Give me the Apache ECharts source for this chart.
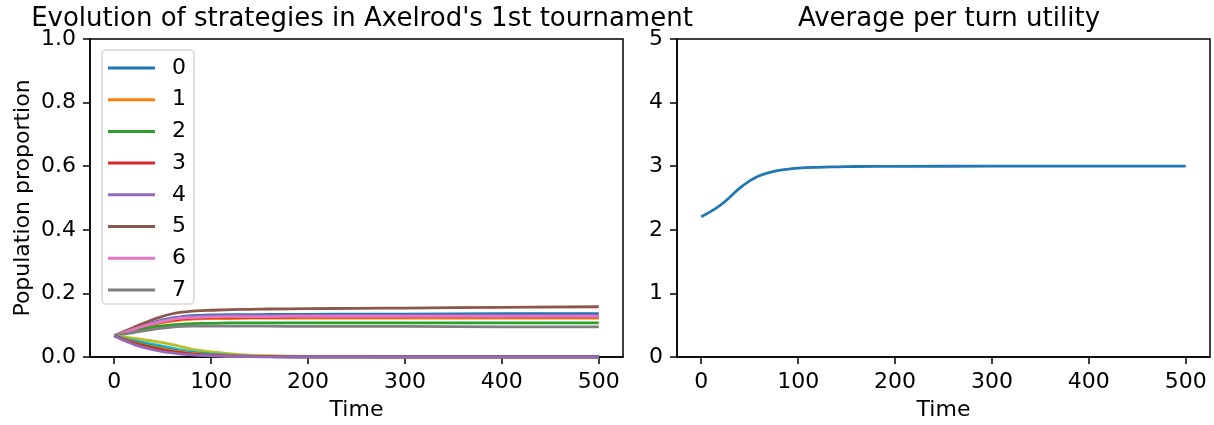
<!DOCTYPE html>
<html>
<head>
<meta charset="utf-8">
<script src="https://cdn.jsdelivr.net/npm/echarts@6/dist/echarts.min.js"></script>
<style>html,body{margin:0;padding:0;background:#fff}#c{width:1214px;height:425px}</style>
</head>
<body>
<div id="c"></div>
<script>
// ---- data ----
const time = [0,10,20,30,40,50,60,70,80,90,100,120,140,160,200,250,300,400,500];
const strategyLabels = ['0','1','2','3','4','5','6','7','8','9','10','11','12','13','14'];
const s0  = [0.0667,0.078,0.089,0.099,0.109,0.117,0.123,0.127,0.130,0.131,0.132,0.133,0.133,0.134,0.134,0.135,0.135,0.136,0.136];
const s1  = [0.0667,0.076,0.085,0.094,0.102,0.108,0.113,0.117,0.119,0.120,0.121,0.121,0.122,0.122,0.122,0.122,0.122,0.122,0.122];
const s2  = [0.0667,0.074,0.081,0.088,0.094,0.098,0.101,0.103,0.105,0.106,0.106,0.107,0.107,0.107,0.107,0.107,0.107,0.107,0.107];
const s3  = [0.0667,0.077,0.087,0.096,0.104,0.111,0.116,0.120,0.122,0.123,0.124,0.125,0.125,0.125,0.126,0.126,0.126,0.126,0.126];
const s4  = [0.0667,0.078,0.088,0.098,0.107,0.115,0.121,0.125,0.127,0.128,0.129,0.130,0.130,0.130,0.131,0.131,0.131,0.131,0.131];
const s5  = [0.0667,0.080,0.093,0.106,0.118,0.128,0.136,0.141,0.144,0.146,0.147,0.149,0.150,0.151,0.152,0.153,0.154,0.156,0.158];
const s6  = [0.0667,0.077,0.087,0.097,0.105,0.112,0.118,0.122,0.124,0.125,0.126,0.127,0.127,0.127,0.128,0.128,0.128,0.128,0.128];
const s7  = [0.0667,0.072,0.077,0.082,0.087,0.091,0.094,0.096,0.097,0.097,0.097,0.097,0.097,0.097,0.096,0.096,0.096,0.095,0.095];
const s8  = [0.0667,0.063,0.059,0.055,0.050,0.045,0.039,0.032,0.025,0.020,0.016,0.010,0.006,0.004,0.002,0.001,0,0,0];
const s9  = [0.0667,0.059,0.052,0.046,0.040,0.034,0.028,0.022,0.017,0.013,0.010,0.006,0.003,0.002,0.001,0,0,0,0];
const s10 = [0.0667,0.057,0.049,0.041,0.034,0.028,0.022,0.017,0.013,0.010,0.008,0.004,0.002,0.001,0,0,0,0,0];
const s11 = [0.0667,0.056,0.047,0.039,0.032,0.026,0.020,0.016,0.012,0.009,0.007,0.004,0.002,0.001,0,0,0,0,0];
const s12 = [0.0667,0.055,0.045,0.037,0.030,0.023,0.018,0.014,0.010,0.008,0.006,0.003,0.002,0.001,0,0,0,0,0];
const s13 = [0.0667,0.054,0.044,0.035,0.028,0.022,0.017,0.013,0.009,0.007,0.005,0.003,0.001,0.001,0,0,0,0,0];
const s14 = [0.0667,0.052,0.040,0.030,0.023,0.017,0.013,0.009,0.007,0.005,0.004,0.002,0.001,0,0,0,0,0,0];
const proportions = [s0,s1,s2,s3,s4,s5,s6,s7,s8,s9,s10,s11,s12,s13,s14];
const legendShown = ['0','1','2','3','4','5','6','7'];

const utilTime = [0,10,20,30,40,50,60,70,80,90,100,120,140,160,200,300,400,500];
const utility  = [2.206,2.29,2.39,2.52,2.66,2.77,2.85,2.90,2.935,2.955,2.97,2.983,2.99,2.995,2.998,3.0,3.0,3.0];

const xTicks = [0,100,200,300,400,500];
const title1 = "Evolution of strategies in Axelrod's 1st tournament";
const title2 = "Average per turn utility";

// ---- chart ----
const tab10 = ['#1f77b4','#ff7f0e','#2ca02c','#d62728','#9467bd','#8c564b','#e377c2','#7f7f7f','#bcbd22','#17becf'];
const FONT = 'DejaVu Sans';
const FS = 22;
const chart = echarts.init(document.getElementById('c'), null, {renderer:'canvas'});

function xAxis(gi){
  return {
    type:'value', gridIndex:gi, min:-25, max:525,
    name:'Time', nameLocation:'middle', nameGap:42,
    nameTextStyle:{fontFamily:FONT, fontSize:FS, color:'#000'},
    axisLine:{show:true, onZero:false, lineStyle:{color:'#000', width:1.5}},
    axisTick:{show:true, inside:false, length:7, lineStyle:{color:'#000', width:1.5}, customValues:xTicks},
    axisLabel:{fontFamily:FONT, fontSize:FS, color:'#000', margin:14, customValues:xTicks},
    splitLine:{show:false}
  };
}
function yAxis(gi, max, interval, fmt, name){
  return {
    type:'value', gridIndex:gi, min:0, max:max, interval:interval,
    name:name, nameLocation:'middle', nameGap:56,
    nameTextStyle:{fontFamily:FONT, fontSize:FS, color:'#000'},
    axisLine:{show:true, onZero:false, lineStyle:{color:'#000', width:1.5}},
    axisTick:{show:true, inside:false, length:7, lineStyle:{color:'#000', width:1.5}},
    axisLabel:{fontFamily:FONT, fontSize:FS, color:'#000', margin:14, formatter:fmt},
    splitLine:{show:false}
  };
}

const series = proportions.map((arr,i)=>({
  name: strategyLabels[i], type:'line', xAxisIndex:0, yAxisIndex:0,
  data: time.map((t,k)=>[t, arr[k]]),
  showSymbol:false, smooth:0.4,
  lineStyle:{width:2.8, color:tab10[i%10]}, itemStyle:{color:tab10[i%10]},
  z: 2 + i*0.01
}));
series.push({
  name:'utility', type:'line', xAxisIndex:1, yAxisIndex:1,
  data: utilTime.map((t,k)=>[t, utility[k]]),
  showSymbol:false, smooth:0.4,
  lineStyle:{width:2.8, color:tab10[0]}, itemStyle:{color:tab10[0]}
});

chart.setOption({
  animation:false,
  backgroundColor:'#fff',
  title:[
    {text:title1, left:357, top:1, textAlign:'center', textStyle:{fontFamily:FONT, fontSize:26, fontWeight:'normal', color:'#000'}},
    {text:title2, left:944, top:1, textAlign:'center', textStyle:{fontFamily:FONT, fontSize:26, fontWeight:'normal', color:'#000'}}
  ],
  grid:[
    {left:90, right:591, top:39, bottom:68, outerBoundsMode:'none', containLabel:false, show:true, borderColor:'#000', borderWidth:1.5, backgroundColor:'transparent'},
    {left:677, right:4, top:39, bottom:68, outerBoundsMode:'none', containLabel:false, show:true, borderColor:'#000', borderWidth:1.5, backgroundColor:'transparent'}
  ],
  legend:{
    data:legendShown, orient:'vertical', left:102, top:50,
    itemWidth:47, itemHeight:3, itemGap:9.7, icon:'rect',
    padding:[7,8,3,6],
    borderColor:'#d6d6d6', borderWidth:1.5, borderRadius:4, backgroundColor:'rgba(255,255,255,0.8)',
    textStyle:{fontFamily:FONT, fontSize:FS, color:'#000', padding:[0,0,0,12], lineHeight:22},
    selectedMode:false
  },
  xAxis:[xAxis(0), xAxis(1)],
  yAxis:[
    yAxis(0, 1, 0.2, v=>v.toFixed(1), 'Population proportion'),
    yAxis(1, 5, 1, v=>String(v), '')
  ],
  series: series
});
</script>
</body>
</html>
